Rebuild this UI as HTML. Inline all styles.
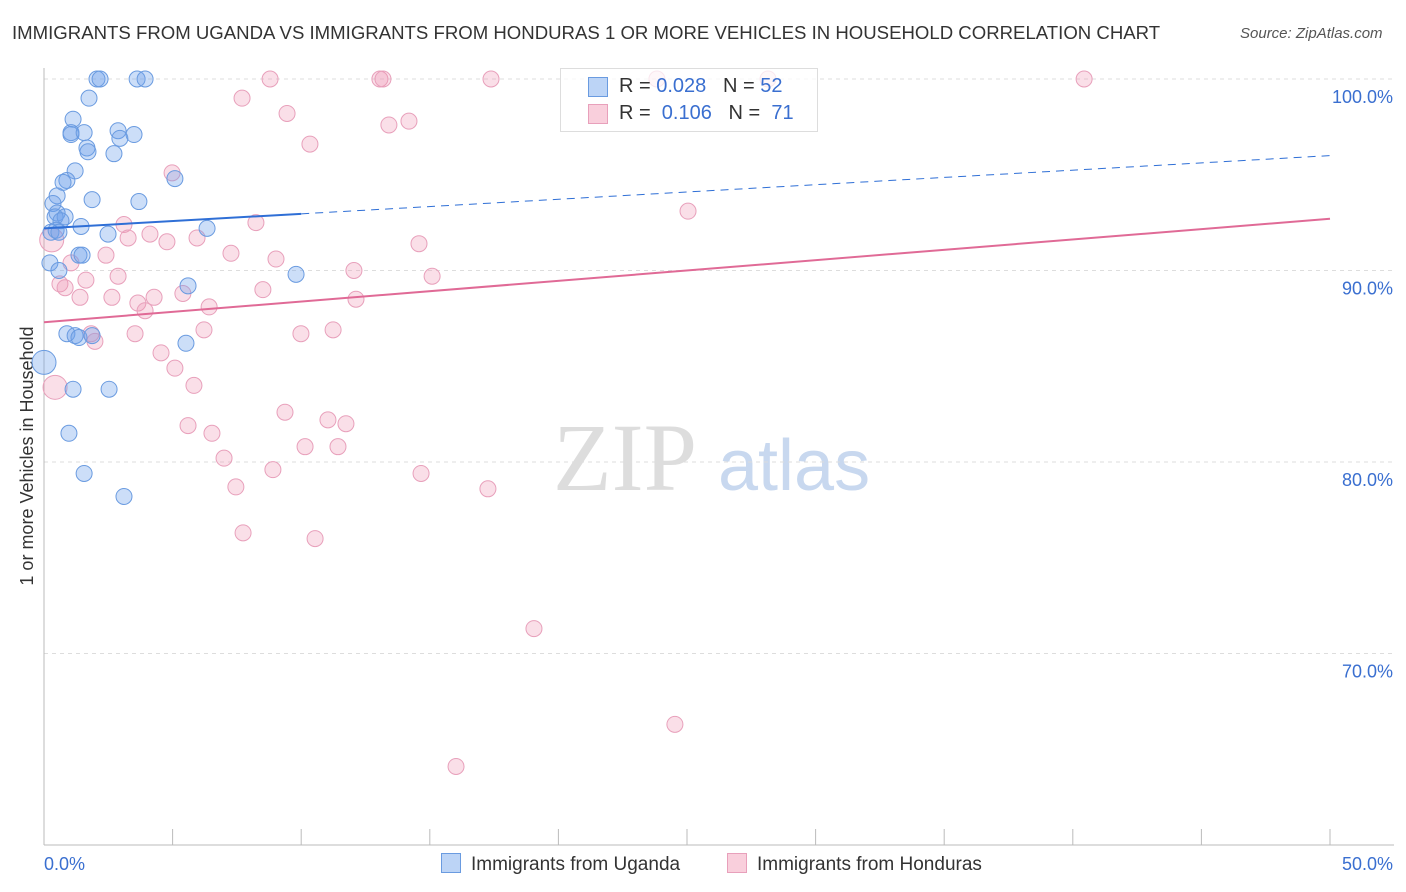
<!DOCTYPE html>
<html><head><meta charset="utf-8"><style>
body{margin:0;background:#fff;font-family:"Liberation Sans",sans-serif;}
#wrap{position:relative;width:1406px;height:892px;}
.t{position:absolute;white-space:nowrap;}
</style></head><body>
<div id="wrap">
<div class="t" style="left:12px;top:22px;font-size:18.6px;color:#333">IMMIGRANTS FROM UGANDA VS IMMIGRANTS FROM HONDURAS 1 OR MORE VEHICLES IN HOUSEHOLD CORRELATION CHART</div>
<div class="t" style="left:1240px;top:25px;font-size:15px;color:#555;font-style:italic">Source: ZipAtlas.com</div>
<svg id="svg" width="1406" height="892" style="position:absolute;left:0;top:0"></svg>
</div>
<script>
const xTicks=[0,5,10,15,20,25,30,35,40,45,50];
const yTicks=[70,80,90,100];
const yTickLabels=["70.0%","80.0%","90.0%","100.0%"];
const ugX=[2.06,2.18,3.62,3.93,1.75,1.13,1.05,1.05,1.56,2.88,3.5,2.95,1.67,1.71,2.72,1.21,5.09,0.89,0.74,0.51,1.87,3.69,0.35,0.51,0.43,0.82,0.66,1.44,6.34,0.27,0.47,0.58,2.49,1.36,1.48,0.23,0.58,9.8,5.6,0.89,1.21,1.36,1.87,5.52,0,1.13,2.53,0.97,1.56,3.11];
const ugY=[100,100,100,100,99.0,97.9,97.2,97.1,97.2,97.3,97.1,96.9,96.4,96.2,96.1,95.2,94.8,94.7,94.6,93.9,93.7,93.6,93.5,93.0,92.8,92.8,92.6,92.3,92.2,92.0,92.1,92.0,91.9,90.8,90.8,90.4,90.0,89.8,89.2,86.7,86.6,86.5,86.6,86.2,85.2,83.8,83.8,81.5,79.4,78.2];
const hoX=[8.79,13.06,13.18,17.38,23.83,28.15,40.44,7.7,9.45,14.19,13.41,10.34,4.98,25.04,3.11,8.24,4.12,3.27,4.78,5.95,14.58,0.3,7.27,2.41,9.02,1.05,12.05,2.88,1.63,15.09,0.62,0.82,8.51,5.4,4.28,2.64,1.4,12.13,3.65,6.42,3.93,11.24,6.22,9.99,3.54,1.83,1.98,4.55,5.09,5.83,0.43,9.37,11.04,11.74,5.6,6.53,10.15,11.43,7.0,8.9,14.66,7.46,17.26,7.74,10.54,19.05,24.53,16.02];
const hoY=[100,100,100,100,100,100,100,99.0,98.2,97.8,97.6,96.6,95.1,93.1,92.4,92.5,91.9,91.7,91.5,91.7,91.4,91.6,90.9,90.8,90.6,90.4,90.0,89.7,89.5,89.7,89.3,89.1,89.0,88.8,88.6,88.6,88.6,88.5,88.3,88.1,87.9,86.9,86.9,86.7,86.7,86.7,86.3,85.7,84.9,84.0,83.9,82.6,82.2,82.0,81.9,81.5,80.8,80.8,80.2,79.6,79.4,78.7,78.6,76.3,76.0,71.3,66.3,64.1];
const ugTrend=[92.2,96.0];
const hoTrend=[87.3,92.7];
const X=v=>44+v/50*1286, Y=v=>79+(100-v)*19.15;
const svg=document.getElementById('svg');
function el(tag,attrs,parent){const e=document.createElementNS('http://www.w3.org/2000/svg',tag);for(const k in attrs)e.setAttribute(k,attrs[k]);(parent||svg).appendChild(e);return e;}
let w=el('text',{x:553,y:490,'font-size':96,fill:'#ddd','font-family':'Liberation Serif'});w.textContent='ZIP';


let w2=el('text',{x:718,y:490,'font-size':72,fill:'#c8d8ef','font-family':'Liberation Sans'});w2.textContent='atlas';


yTicks.forEach((t,i)=>{
 const g=el('line',{x1:44,x2:1394,y1:Y(t),y2:Y(t),stroke:'#ddd','stroke-dasharray':'4,4'});
 
 
 const l=el('text',{x:1393,y:Y(t)+24,'text-anchor':'end','font-size':18,fill:'#3a6fd0'});l.textContent=yTickLabels[i];
 
 
});
el('line',{x1:44,x2:44,y1:68,y2:845,stroke:'#bbb'});
el('line',{x1:44,x2:1394,y1:845,y2:845,stroke:'#bbb'});
xTicks.forEach(t=>{const tk=el('line',{x1:X(t),x2:X(t),y1:829,y2:845,stroke:'#bbb'});
 
 });
let xl=el('text',{x:44,y:870,'font-size':18,fill:'#3a6fd0'});xl.textContent='0.0%';


let xr=el('text',{x:1393,y:870,'font-size':18,fill:'#3a6fd0','text-anchor':'end'});xr.textContent='50.0%';


let yt=el('text',{x:0,y:0,'font-size':18,fill:'#333','text-anchor':'middle',transform:'translate(33,456) rotate(-90)'});yt.textContent='1 or more Vehicles in Household';


hoX.forEach((x,i)=>{const big=(x<0.5&&(hoY[i]<85||hoY[i]>91));const c=el('circle',{cx:X(x),cy:Y(hoY[i]),r:big?12:8,fill:'rgba(240,150,180,0.3)',stroke:'#e8a0bb','stroke-width':1});
 
 });
ugX.forEach((x,i)=>{const big=x===0;const c=el('circle',{cx:X(x),cy:Y(ugY[i]),r:big?12:8,fill:'rgba(110,160,235,0.35)',stroke:'#6a9be0','stroke-width':1});
 
 });
const slopeU=(ugTrend[1]-ugTrend[0])/50;
let u1=el('line',{x1:X(0),y1:Y(ugTrend[0]),x2:X(10),y2:Y(ugTrend[0]+slopeU*10),stroke:'#2f6fd6','stroke-width':2});


let u2=el('line',{x1:X(10),y1:Y(ugTrend[0]+slopeU*10),x2:X(50),y2:Y(ugTrend[1]),stroke:'#2f6fd6','stroke-width':1,'stroke-dasharray':'8,6'});


let h1=el('line',{x1:X(0),y1:Y(hoTrend[0]),x2:X(50),y2:Y(hoTrend[1]),stroke:'#e06a96','stroke-width':2});


</script>
<div class="t" style="left:560px;top:68px;width:256px;height:62px;border:1px solid #ddd;background:rgba(255,255,255,0.75)">
 <div style="position:absolute;left:27px;top:8px;width:18px;height:18px;background:#bcd4f6;border:1px solid #6a9be0"></div>
 <div style="position:absolute;left:58px;top:6px;font-size:20px;color:#333">R = <span style="color:#3a6fd0">0.028</span> &nbsp; N = <span style="color:#3a6fd0">52</span></div>
 <div style="position:absolute;left:27px;top:35px;width:18px;height:18px;background:#f9cfdc;border:1px solid #e8a0bb"></div>
 <div style="position:absolute;left:58px;top:33px;font-size:20px;color:#333">R = &nbsp;<span style="color:#3a6fd0">0.106</span> &nbsp; N = &nbsp;<span style="color:#3a6fd0">71</span></div>
</div>
<div class="t" style="left:441px;top:853px;font-size:19px;color:#333"><span style="display:inline-block;width:18px;height:18px;background:#bcd4f6;border:1px solid #6a9be0;vertical-align:-3px;margin-right:10px"></span>Immigrants from Uganda</div>
<div class="t" style="left:727px;top:853px;font-size:19px;color:#333"><span style="display:inline-block;width:18px;height:18px;background:#f9cfdc;border:1px solid #e8a0bb;vertical-align:-3px;margin-right:10px"></span>Immigrants from Honduras</div>
</body></html>
